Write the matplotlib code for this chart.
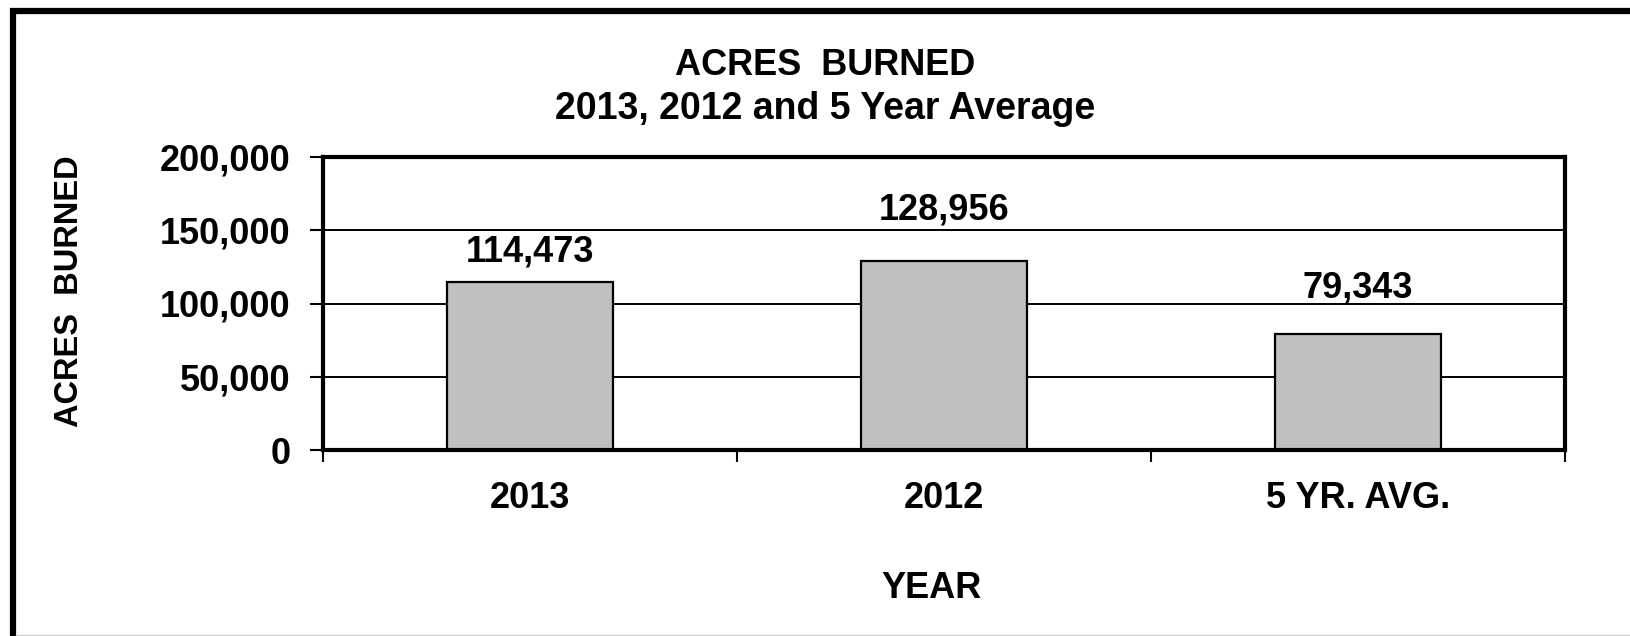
import matplotlib.pyplot as plt
from matplotlib.patches import Rectangle
from matplotlib.lines import Line2D
from matplotlib.ticker import FuncFormatter

categories = ["2013", "2012", "5 YR. AVG."]
acres = [114473, 128956, 79343]
y_ticks = [0, 50000, 100000, 150000, 200000]
title_lines = ["ACRES  BURNED", "2013, 2012 and 5 Year Average"]
label_offsets = [22, 37, 33]  # points above bar top, as in the original

W, H = 1630, 636
plt.rcParams['font.family'] = ['Liberation Sans', 'DejaVu Sans']
plt.rcParams['font.weight'] = 'bold'
fs = 26

fig = plt.figure(figsize=(W / 100, H / 100), dpi=100)
ax = fig.add_axes([323 / W, 1 - 450 / H, (1565 - 323) / W, (450 - 157) / H])

ax.set_axisbelow(True)
ax.yaxis.grid(True, color='black', linewidth=1.4)
ax.bar(range(len(categories)), acres, width=0.4, color='#c0c0c0',
       edgecolor='black', linewidth=1.6, zorder=2)

for i, v in enumerate(acres):
    ax.annotate("{:,}".format(v), xy=(i, v), xytext=(0, label_offsets[i]),
                textcoords='offset points', ha='center', va='center',
                fontsize=fs, fontweight='bold')

ax.set_xlim(-0.5, len(categories) - 0.5)
ax.set_ylim(0, 200000)
ax.set_yticks(y_ticks)
ax.yaxis.set_major_formatter(FuncFormatter(lambda v, p: "{:,}".format(int(v))))
ax.set_xticks(range(len(categories)))
ax.set_xticklabels(categories)
ax.set_xticks([i - 0.5 for i in range(len(categories) + 1)], minor=True)

ax.tick_params(axis='y', direction='out', length=9.4, width=1.5, pad=14, labelsize=fs)
ax.tick_params(axis='x', which='major', length=0, pad=22, labelsize=fs)
ax.tick_params(axis='x', which='minor', direction='out', length=8.6, width=1.5)
for s in ax.spines.values():
    s.set_linewidth(3)
    s.set_color('black')

# titles and axis labels
fig.text(825 / W, 1 - 75 / H, title_lines[0], ha='center', va='baseline',
         fontsize=fs, fontweight='bold')
fig.text(825 / W, 1 - 119 / H, title_lines[1], ha='center', va='baseline',
         fontsize=27, fontweight='bold')
fig.text(931 / W, 1 - 598 / H, "YEAR", ha='center', va='baseline',
         fontsize=fs, fontweight='bold')
fig.text(70 / W, 1 - 291 / H, "ACRES  BURNED", ha='center', va='center',
         rotation=90, fontsize=23.5, fontweight='bold')

# outer chart border (runs off right and bottom edges)
fig.patches.append(Rectangle((13 / W, -0.1), 1.2, 1 - 10.5 / H + 0.1,
                             transform=fig.transFigure, fill=False,
                             edgecolor='black', linewidth=4.5))
fig.lines.append(Line2D([16 / W, 1], [1 - 635 / H, 1 - 635 / H],
                        transform=fig.transFigure, color='#d0d0d0', linewidth=1))

fig.savefig('out.png', dpi=100)
